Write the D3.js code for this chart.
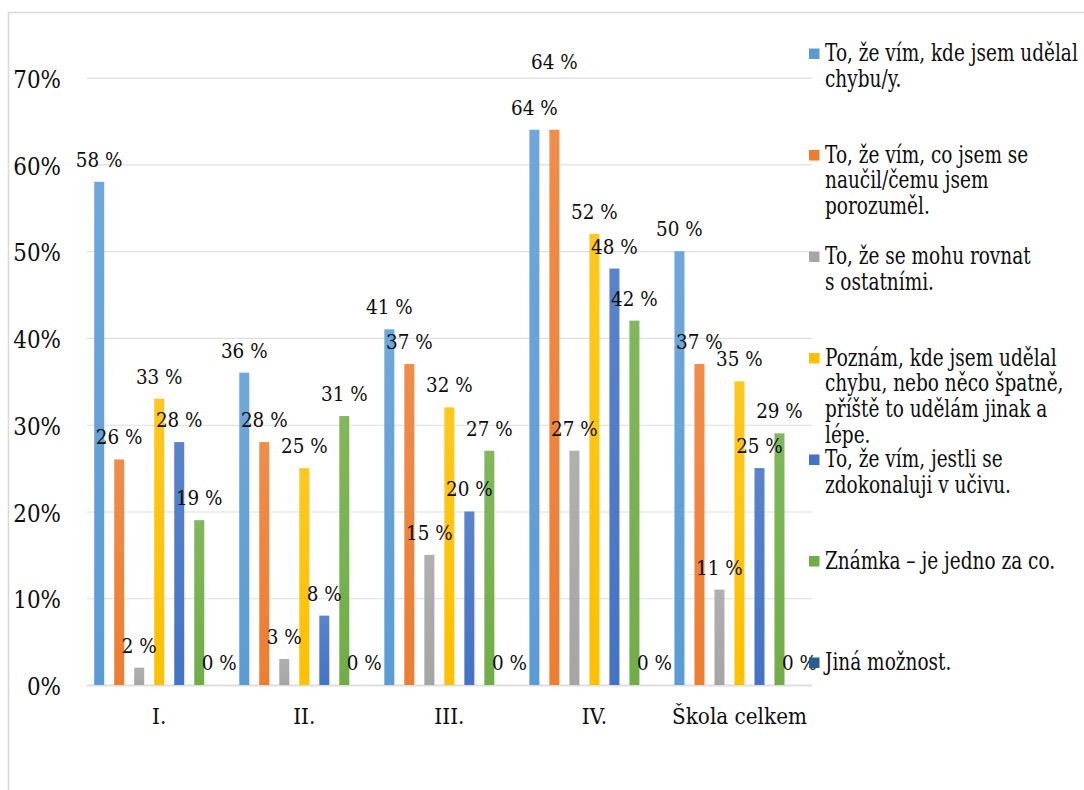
<!DOCTYPE html>
<html>
<head>
<meta charset="utf-8">
<script src="https://cdn.jsdelivr.net/npm/d3@7"></script>
<style>
  html, body { margin: 0; padding: 0; background: #fff; }
  svg { display: block; }
</style>
</head>
<body>
<svg id="chart" width="1084" height="790"></svg>
<script>
// Grades / groups on the x axis
const categories = ["I.", "II.", "III.", "IV.", "Škola celkem"];

// Answer options (legend text, line breaks as printed)
const seriesNames = [
  "To, že vím, kde jsem udělal\nchybu/y.",
  "To, že vím, co jsem se\nnaučil/čemu jsem\nporozuměl.",
  "To, že se mohu rovnat\ns ostatními.",
  "Poznám, kde jsem udělal\nchybu, nebo něco špatně,\npříště to udělám jinak a\nlépe.",
  "To, že vím, jestli se\nzdokonaluji v učivu.",
  "Známka – je jedno za co.",
  "Jiná možnost."
];

const seriesColors = ["#5B9BD5", "#ED7D31", "#A5A5A5", "#FFC000", "#4472C4", "#70AD47", "#255E91"];

// Percent of pupils per answer, one value per category
const vimKdeChyba   = [58, 36, 41, 64, 50];
const vimCoNaucil   = [26, 28, 37, 64, 37];
const rovnatSe      = [2, 3, 15, 27, 11];
const priste        = [33, 25, 32, 52, 35];
const zdokonaluji   = [28, 8, 20, 48, 25];
const znamka        = [19, 31, 27, 42, 29];
const jinaMoznost   = [0, 0, 0, 0, 0];
const seriesValues = [vimKdeChyba, vimCoNaucil, rovnatSe, priste, zdokonaluji, znamka, jinaMoznost];

const yTicks = [0, 10, 20, 30, 40, 50, 60, 70];

const FONT = "'DejaVu Serif', serif";
const INK = "#0d0d0d";

const svg = d3.select("#chart").attr("font-family", FONT);
const plot = { left: 86.7, right: 812, top: 77.7, bottom: 685 };

// Horizontal squeeze so a sample string set at `size` spans `width` px
function fitScale(sample, size, width) {
  const t = svg.append("text").attr("font-family", FONT).attr("font-size", size)
    .attr("x", -1000).attr("y", -1000).text(sample);
  const w = t.node().getComputedTextLength();
  t.remove();
  return w > 0 ? width / w : 1;
}

const tickSize = 24.5, catSize = 23, labelSize = 20.6, legendSize = 23.3;
const tickSx = fitScale("70%", tickSize, 47.7);
const catSx = fitScale("Škola celkem", catSize, 135);
const labelSx = fitScale("58 %", labelSize, 46.7);
const legendSx = fitScale("To, že vím, kde jsem udělal", legendSize, 253);

// Outer chart frame
svg.append("rect")
  .attr("x", 8.5).attr("y", 12.5)
  .attr("width", 1100).attr("height", 800)
  .attr("fill", "none").attr("stroke", "#d9d9d9").attr("stroke-width", 1.5);

const x0 = d3.scaleBand().domain(categories).range([plot.left, plot.right]);
const x1 = d3.scaleBand().domain(d3.range(seriesNames.length))
  .range([0, x0.bandwidth()]).paddingInner(0.5).paddingOuter(0.375);
const y = d3.scaleLinear().domain([0, 70]).range([plot.bottom, plot.top]);

// Gradients: slightly lighter at the top of each bar
const defs = svg.append("defs");
seriesColors.forEach((c, i) => {
  const g = defs.append("linearGradient").attr("id", "grad" + i)
    .attr("x1", 0).attr("y1", 0).attr("x2", 0).attr("y2", 1);
  g.append("stop").attr("offset", "0%").attr("stop-color", d3.interpolateRgb(c, "#ffffff")(0.12));
  g.append("stop").attr("offset", "100%").attr("stop-color", c);
});

// Y axis with gridlines
const tickPad = 25.7;
const yAxis = svg.append("g")
  .attr("transform", `translate(${plot.left},0)`)
  .call(d3.axisLeft(y).tickValues(yTicks).tickFormat(d => d + "%")
    .tickSize(-(plot.right - plot.left)).tickPadding(tickPad));
yAxis.attr("font-family", FONT);
yAxis.select(".domain").remove();
yAxis.selectAll(".tick line")
  .attr("stroke", "#dedede")
  .attr("stroke-width", d => d === 0 ? 2 : 1.2);
yAxis.selectAll(".tick text")
  .attr("x", 0)
  .attr("dy", null)
  .attr("transform", `translate(${-tickPad},9.6) scale(${tickSx},1)`)
  .attr("font-family", FONT)
  .attr("font-size", tickSize)
  .attr("fill", INK);

// Category labels
svg.append("g").selectAll("text")
  .data(categories).join("text")
  .attr("transform", d => `translate(${x0(d) + x0.bandwidth() / 2},724) scale(${catSx},1)`)
  .attr("text-anchor", "middle")
  .attr("font-size", catSize)
  .attr("fill", INK)
  .text(d => d);

// Bars
const bars = [];
categories.forEach((cat, ci) => {
  seriesValues.forEach((vals, si) => {
    bars.push({ cat, ci, si, v: vals[ci] });
  });
});

svg.append("g").selectAll("rect")
  .data(bars).join("rect")
  .attr("x", d => x0(d.cat) + x1(d.si))
  .attr("width", x1.bandwidth())
  .attr("y", d => y(d.v))
  .attr("height", d => y(0) - y(d.v))
  .attr("fill", d => `url(#grad${d.si})`);

// Data labels: centred above each bar; a label that would collide with
// an earlier one is lifted above it.
const placed = [];
bars.forEach(d => {
  const txt = d.v + " %";
  const w = txt.length * 11.7;
  const cx = x0(d.cat) + x1(d.si) + x1.bandwidth() / 2;
  let base = y(d.v) - 15;
  const hits = () => placed.some(p =>
    Math.abs(p.cx - cx) < (p.w + w) / 2 && Math.abs(p.base - base) < 15);
  while (hits()) base -= 46;
  placed.push({ cx, base, w, txt });
});

svg.append("g").selectAll("text")
  .data(placed).join("text")
  .attr("transform", d => `translate(${d.cx},${d.base}) scale(${labelSx},1)`)
  .attr("text-anchor", "middle")
  .attr("font-size", labelSize)
  .attr("fill", INK)
  .text(d => d.txt);

// Legend
const legendY = d3.scaleLinear().domain([0, seriesNames.length - 1]).range([61, 670]);
const legend = svg.append("g").selectAll("g")
  .data(seriesNames).join("g");

legend.append("rect")
  .attr("x", 809)
  .attr("y", (d, i) => legendY(i) - 12.5)
  .attr("width", 10.5).attr("height", 10.5)
  .attr("fill", (d, i) => seriesColors[i]);

legend.append("text")
  .attr("transform", (d, i) => `translate(825,${legendY(i)}) scale(${legendSx},1)`)
  .attr("font-size", legendSize)
  .attr("fill", INK)
  .selectAll("tspan")
  .data(d => d.split("\n")).join("tspan")
  .attr("x", 0)
  .attr("dy", (d, i) => i === 0 ? 0 : 26)
  .text(d => d);
</script>
</body>
</html>
